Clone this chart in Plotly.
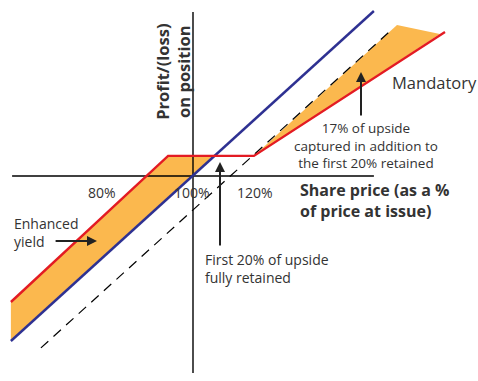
import plotly.graph_objects as go

# Schematic data: x = share price (% of price at issue), y = profit/(loss)
share_x = [39.3, 160.3]
share_y = [-55.0, 55.0]

mand_x = [39.3, 91.7, 120.3, 184.0]
mand_y = [-42.0, 6.7, 6.7, 48.0]

dash_x = [49.3, 165.7]
dash_y = [-57.3, 48.3]

# Enhanced yield region (between mandatory and share line)
left_fill_x = [39.3, 91.7, 107.3, 39.3, 39.3]
left_fill_y = [-42.0, 6.7, 6.7, -55.0, -42.0]

# Upside captured region
right_fill_x = [120.3, 168.0, 182.3, 120.3]
right_fill_y = [6.7, 50.3, 47.3, 6.7]

# Axes
vaxis_x = [100, 100]
vaxis_y = [54.7, -65.7]
haxis_x = [39.7, 160.3]
haxis_y = [0, 0]

tick_labels = ["80%", "100%", "120%"]
tick_pos = [69.7, 99.7, 120.7]

ORANGE = "#FBB84E"
RED = "#E31B23"
BLUE = "#2E3192"
TXT = "#333333"
FONT = "Open Sans"

fig = go.Figure()
fig.add_trace(go.Scatter(x=left_fill_x, y=left_fill_y, fill="toself", fillcolor=ORANGE,
                         line=dict(width=0), mode="lines", hoverinfo="skip"))
fig.add_trace(go.Scatter(x=right_fill_x, y=right_fill_y, fill="toself", fillcolor=ORANGE,
                         line=dict(width=0), mode="lines", hoverinfo="skip"))
fig.add_trace(go.Scatter(x=vaxis_x, y=vaxis_y, mode="lines", line=dict(color="black", width=1.4)))
fig.add_trace(go.Scatter(x=haxis_x, y=haxis_y, mode="lines", line=dict(color="black", width=1.4)))
fig.add_trace(go.Scatter(x=dash_x, y=dash_y, mode="lines",
                         line=dict(color="black", width=1.2, dash="10px,7px")))
fig.add_trace(go.Scatter(x=share_x, y=share_y, mode="lines", line=dict(color=BLUE, width=2.4)))
fig.add_trace(go.Scatter(x=mand_x, y=mand_y, mode="lines", line=dict(color=RED, width=2.4)))

ann = []
for t, p in zip(tick_labels, tick_pos):
    ann.append(dict(x=p, y=-5.4, text=t, showarrow=False, font=dict(size=14, color=TXT, family=FONT)))
ann.append(dict(x=93.3, y=34.7, text="<b>Profit/(loss)<br>on position</b>", textangle=-90,
                showarrow=False, font=dict(size=16.5, color=TXT, family=FONT)))
ann.append(dict(x=135, y=-8.3, text="<b>Share price (as a %<br>of price at issue)</b>", xanchor="left",
                align="left", showarrow=False, font=dict(size=16, color=TXT, family=FONT)))
ann.append(dict(x=165.7, y=31.3, text="Mandatory", xanchor="left", showarrow=False,
                font=dict(size=16.5, color=TXT, family=FONT)))
ann.append(dict(x=157.7, y=10.3, text="17% of upside<br>captured in addition to<br>the first 20% retained",
                align="center", showarrow=False, font=dict(size=13.5, color=TXT, family=FONT)))
ann.append(dict(x=39.7, y=-18.7, text="Enhanced<br>yield", xanchor="left", align="left", showarrow=False,
                font=dict(size=14, color=TXT, family=FONT)))
ann.append(dict(x=103.3, y=-30.8, text="First 20% of upside<br>fully retained", xanchor="left", align="left",
                showarrow=False, font=dict(size=14, color=TXT, family=FONT)))
# arrows
arrow = dict(showarrow=True, arrowhead=2, arrowsize=1, arrowwidth=2, arrowcolor="#222222",
             axref="x", ayref="y", text="")
ann.append(dict(x=109, y=4.7, ax=109, ay=-23.7, **arrow))
ann.append(dict(x=156, y=34.7, ax=156, ay=19.7, **arrow))
ann.append(dict(x=68, y=-21.7, ax=53.7, ay=-21.7, **arrow))

fig.update_layout(
    width=478, height=381, margin=dict(l=0, r=0, t=0, b=0),
    paper_bgcolor="white", plot_bgcolor="white", showlegend=False,
    xaxis=dict(range=[35.667, 195], visible=False, fixedrange=True),
    yaxis=dict(range=[-68.333, 58.667], visible=False, fixedrange=True),
    annotations=ann,
)
fig.write_html("out.html")
